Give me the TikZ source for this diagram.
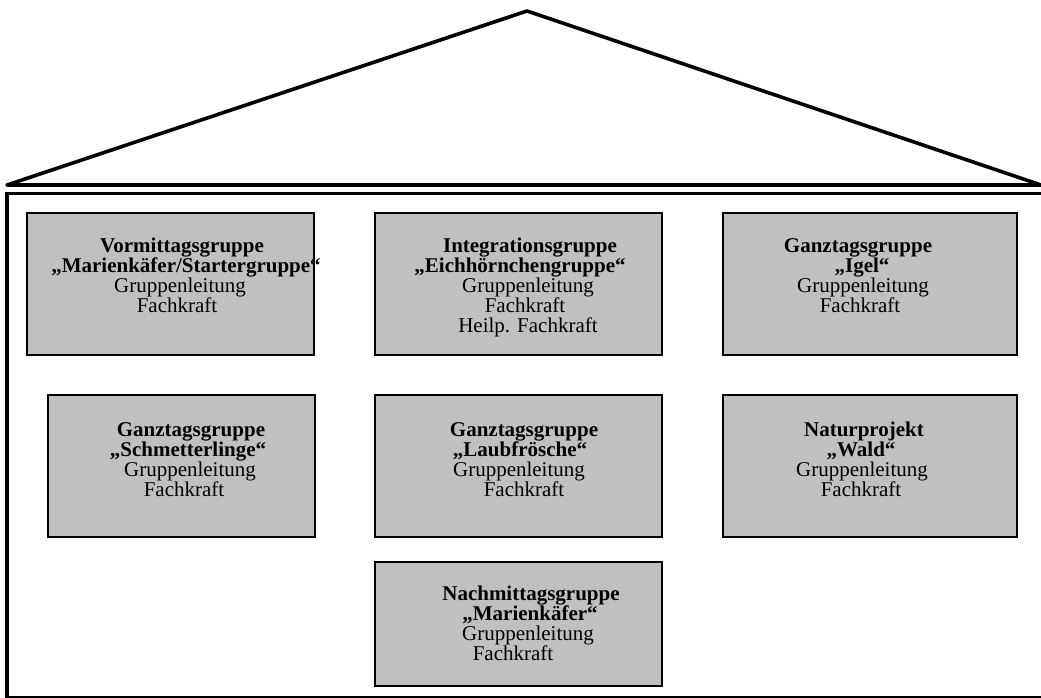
\documentclass[tikz,border=0pt]{standalone}
\usepackage{fontspec}
\setmainfont{Liberation Serif}
\tikzset{
  grpbox/.style={draw=black, fill={rgb,255:red,192;green,192;blue,192}, line width=1.6pt, inner sep=0pt, outer sep=0pt},
  ttl/.style={anchor=base, inner sep=0pt, font=\fontsize{21}{20}\selectfont\bfseries},
  txt/.style={anchor=base, inner sep=0pt, font=\fontsize{21}{20}\selectfont},
  wall/.style={line width=3pt, line join=round}
}
\begin{document}
\begin{tikzpicture}[x=1pt,y=-1pt]
\useasboundingbox (0,0) rectangle (1041,698);
% roof
\coordinate (rl) at (7,185);
\coordinate (rt) at (527,11);
\coordinate (rr) at (1041,185);
\coordinate (rr2) at (1050,185);
\draw[line width=3.6pt, line join=round] (rr2) -- (rl) -- (rt) -- (rr);
% house body
\coordinate (ht) at (1050,193);
\coordinate (hl) at (7,193);
\coordinate (hb) at (7,697);
\coordinate (hbr) at (1050,697);
\draw[line width=3pt] (ht) -- (hl);
\draw[line width=3.4pt] (7,191.5) -- (hb);
\draw[line width=1.6pt] (5.3,697) -- (hbr);
% boxes
\node[grpbox, minimum width=287pt, minimum height=142pt] (b1) at (170.5,284) {};
\node[grpbox, minimum width=287pt, minimum height=142pt] (b2) at (518.5,284) {};
\node[grpbox, minimum width=294pt, minimum height=142pt] (b3) at (870,284) {};
\node[grpbox, minimum width=267pt, minimum height=142pt] (b4) at (181.5,466) {};
\node[grpbox, minimum width=287pt, minimum height=142pt] (b5) at (518.5,466) {};
\node[grpbox, minimum width=294pt, minimum height=142pt] (b6) at (870,466) {};
\node[grpbox, minimum width=287pt, minimum height=124pt] (b7) at (518.5,624) {};
% box 1
\node[ttl] (t1a) at (182,252) {Vormittagsgruppe};
\node[ttl] (t1b) at (186,272) {„Marienkäfer/Startergruppe“};
\node[txt] (t1c) at (180,292) {Gruppenleitung};
\node[txt] (t1d) at (177,312) {Fachkraft};
% box 2
\node[ttl] (t2a) at (530,252) {Integrationsgruppe};
\node[ttl] (t2b) at (520,272) {„Eichhörnchengruppe“};
\node[txt] (t2c) at (528,292) {Gruppenleitung};
\node[txt] (t2d) at (525,312) {Fachkraft};
\node[txt] (t2e) at (528,332) {Heilp. Fachkraft};
% box 3
\node[ttl] (t3a) at (858,252) {Ganztagsgruppe};
\node[ttl] (t3b) at (862,272) {„Igel“};
\node[txt] (t3c) at (863,292) {Gruppenleitung};
\node[txt] (t3d) at (860,312) {Fachkraft};
% box 4
\node[ttl] (t4a) at (191,436) {Ganztagsgruppe};
\node[ttl] (t4b) at (188,456) {„Schmetterlinge“};
\node[txt] (t4c) at (190,476) {Gruppenleitung};
\node[txt] (t4d) at (184,496) {Fachkraft};
% box 5
\node[ttl] (t5a) at (524,436) {Ganztagsgruppe};
\node[ttl] (t5b) at (520,456) {„Laubfrösche“};
\node[txt] (t5c) at (519,476) {Gruppenleitung};
\node[txt] (t5d) at (524,496) {Fachkraft};
% box 6
\node[ttl] (t6a) at (864,436) {Naturprojekt};
\node[ttl] (t6b) at (861,456) {„Wald“};
\node[txt] (t6c) at (862,476) {Gruppenleitung};
\node[txt] (t6d) at (861,496) {Fachkraft};
% box 7
\node[ttl] (t7a) at (531,600) {Nachmittagsgruppe};
\node[ttl] (t7b) at (530,620) {„Marienkäfer“};
\node[txt] (t7c) at (528,640) {Gruppenleitung};
\node[txt] (t7d) at (513,660) {Fachkraft};
\end{tikzpicture}
\end{document}
